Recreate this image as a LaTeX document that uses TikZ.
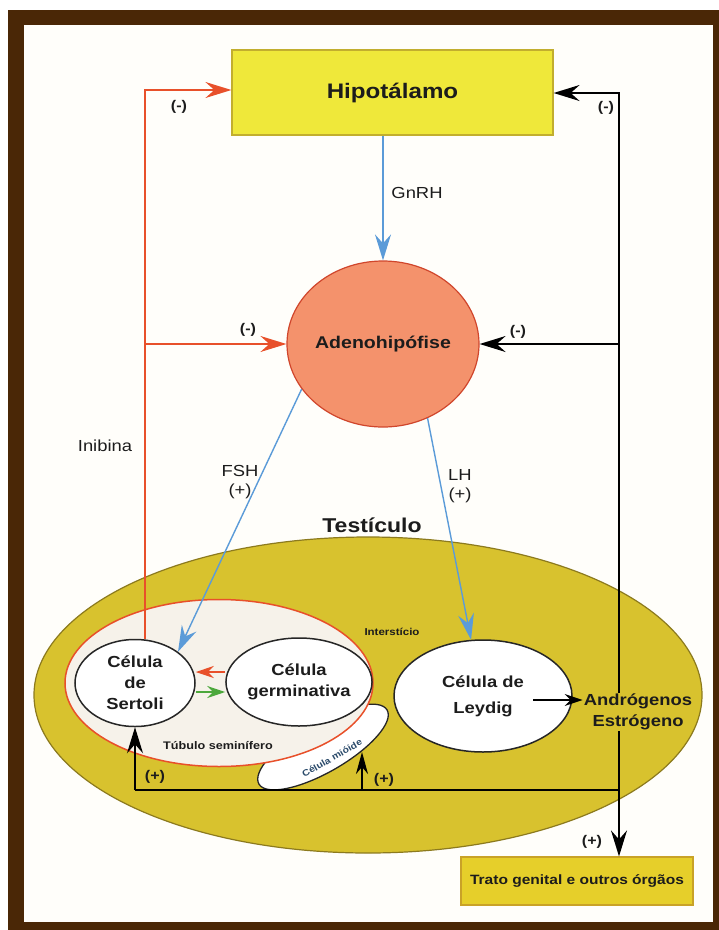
\documentclass[tikz,border=0pt]{standalone}
\usepackage{fontspec}
\setmainfont{Liberation Sans}[FakeStretch=1.15]
\usetikzlibrary{arrows.meta,shapes.geometric}
\definecolor{framebrown}{HTML}{4A2706}
\definecolor{paper}{HTML}{FFFEFA}
\definecolor{hipfill}{HTML}{EFE83A}
\definecolor{hipdraw}{HTML}{C2AE2E}
\definecolor{adenofill}{HTML}{F4926C}
\definecolor{adenodraw}{HTML}{D0462C}
\definecolor{testfill}{HTML}{D8C22E}
\definecolor{testdraw}{HTML}{8C7A1E}
\definecolor{tubfill}{HTML}{F6F2EA}
\definecolor{redline}{HTML}{E8502A}
\definecolor{blueline}{HTML}{5B9BD8}
\definecolor{greenline}{HTML}{4CA83C}
\definecolor{tratofill}{HTML}{E6CF2A}
\definecolor{tratodraw}{HTML}{C9A227}
\definecolor{txt}{HTML}{1C1C1C}
\definecolor{mioidetxt}{HTML}{2A4A6A}
\tikzset{
  bigtip/.style={-{Stealth[length=26pt,width=16pt,inset=9pt]}},
  midtip/.style={-{Stealth[length=22pt,width=12pt,inset=7pt]}},
  smalltip/.style={-{Stealth[length=18pt,width=12pt,inset=6pt]}},
  bluearr/.style={draw=blueline,line width=1.4pt,bigtip},
  redarr/.style={draw=redline,line width=1.5pt,bigtip},
  blkarr/.style={draw=black,line width=1.9pt,bigtip},
  blkln/.style={draw=black,line width=1.9pt},
  cellnode/.style={ellipse,draw=black!85,line width=1.5pt,fill=white,inner sep=0pt,
    font=\bfseries\fontsize{16}{21}\selectfont,text=txt,align=center},
  lab/.style={font=\fontsize{16}{19}\selectfont,text=txt,align=center},
  sign/.style={font=\bfseries\fontsize{14}{16}\selectfont,text=txt},
}
\begin{document}
\begin{tikzpicture}[x=1pt,y=-1pt]
\useasboundingbox (0,0) rectangle (719,930);
\fill[white] (0,0) rectangle (719,930);
\fill[framebrown] (8,10) rectangle (719,930);
\fill[paper] (24,25) rectangle (713,922);

% top boxes
\node[draw=hipdraw,fill=hipfill,line width=1.2pt,minimum width=321pt,minimum height=85pt,
  font=\bfseries\fontsize{21}{24}\selectfont,text=txt] (hip) at (392.5,92.5) {Hipotálamo};
\node[ellipse,draw=adenodraw,fill=adenofill,line width=1.2pt,minimum width=142pt,minimum height=166pt,
  inner sep=0pt,font=\bfseries\fontsize{17}{20}\selectfont,text=txt] (adeno) at (383,344) {Adenohipófise};

% testis
\node[ellipse,draw=testdraw,fill=testfill,line width=1.2pt,minimum width=668pt,minimum height=316pt,inner sep=0pt] (testis) at (368,695) {};
\node[font=\bfseries\fontsize{20}{24}\selectfont,text=txt] (testlab) at (372,525) {Testículo};

% myoid cell (under tubule)
\node[ellipse,draw=black!85,fill=white,line width=1.3pt,minimum width=148pt,minimum height=50pt,rotate=30,inner sep=0pt] (mioide) at (323,747) {};
% tubule
\node[ellipse,draw=redline,fill=tubfill,line width=1.5pt,minimum width=308pt,minimum height=167pt,inner sep=0pt] (tub) at (219,683) {};
\node[font=\bfseries\fontsize{9}{10}\selectfont,text=mioidetxt,rotate=30,inner sep=0pt] (miolab) at (332,758) {Célula mióide};

\node[cellnode,minimum width=120pt,minimum height=87pt] (sertoli) at (135,683) {Célula\\de\\Sertoli};
\node[cellnode,minimum width=122pt,minimum height=88pt] (germ) at (299,682) {Célula\\germinativa};
\node[cellnode,minimum width=178pt,minimum height=112pt,font=\bfseries\fontsize{16}{26}\selectfont] (leydig) at (483,696) {Célula de\\Leydig};

\node[font=\bfseries\fontsize{10}{12}\selectfont,text=txt] (inter) at (392,632) {Interstício};
\node[font=\bfseries\fontsize{11}{13}\selectfont,text=txt,inner sep=1pt] (tublab) at (218,746) {Túbulo seminífero};
\node[font=\bfseries\fontsize{16}{21}\selectfont,text=txt,align=center,inner sep=1pt] (andro) at (638,712) {Andrógenos\\Estrógeno};

\node[draw=tratodraw,fill=tratofill,line width=1.2pt,minimum width=232pt,minimum height=48pt,
  font=\bfseries\fontsize{13.5}{16}\selectfont,text=txt] (trato) at (577,881) {Trato genital e outros órgãos};

% labels
\node[lab] (gnrh) at (417,193) {GnRH};
\node[lab] (fsh) at (240,482) {FSH\\(+)};
\node[lab] (lh) at (460,486) {LH\\(+)};
\node[lab] (inib) at (105,446) {Inibina};
\node[sign] (m1) at (179,107) {(-)};
\node[sign] (m2) at (606,108) {(-)};
\node[sign] (m3) at (248,330) {(-)};
\node[sign] (m4) at (518,332) {(-)};
\node[sign] (p1) at (155,777) {(+)};
\node[sign] (p2) at (384,780) {(+)};
\node[sign] (p3) at (592,842) {(+)};

% coordinates
\coordinate (redtop) at (145,90);
\coordinate (blktop) at (619,93);
\coordinate (base) at (619,790);
\coordinate (myotip) at (362,752);
\coordinate (lyarr) at (533,700);

% blue arrows
\draw[bluearr] (adeno.north |- hip.south) -- (adeno.north);
\draw[bluearr] (adeno.209) -- (sertoli.36);
\draw[bluearr] (adeno.301) -- (leydig.102);

% red feedback
\draw[redarr] (sertoli.north -| redtop) -- (redtop) -- (hip.west |- redtop);
\draw[redarr] (redtop |- adeno) -- (adeno.west);

% black feedback
\draw[blkarr] (andro.north -| blktop) -- (blktop) -- (hip.east |- blktop);
\draw[blkarr] (blktop |- adeno) -- (adeno.east);
\draw[blkarr] (andro.south -| blktop) -- (trato.north -| blktop);
\draw[blkln] (base) -- (base -| sertoli.south);
\draw[blkarr] (base -| sertoli.south) -- (sertoli.south);
\draw[blkarr,midtip] (base -| myotip) -- (myotip);
\draw[blkarr,line width=1.6pt,smalltip] (lyarr) -- (lyarr -| andro.west);

% germ-sertoli
\draw[draw=redline,line width=1.4pt,smalltip] ([yshift=10]germ.west) -- ([yshift=11]sertoli.east);
\draw[draw=greenline,line width=1.4pt,smalltip] ([yshift=-9]sertoli.east) -- ([yshift=-10]germ.west);
\end{tikzpicture}
\end{document}
